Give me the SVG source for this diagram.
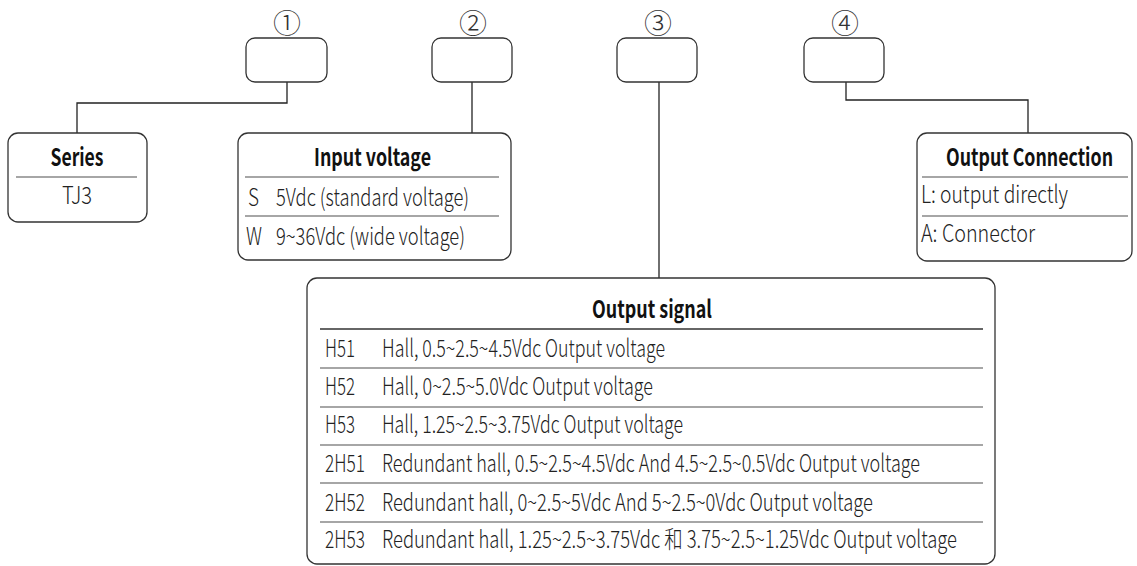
<svg xmlns="http://www.w3.org/2000/svg" width="1137" height="566" viewBox="0 0 1137 566">
<style>
.box{fill:#fff;stroke:#333;stroke-width:1.3}
.conn{fill:none;stroke:#222;stroke-width:1.3}
.t{font-family:"Noto Sans CJK SC","Noto Sans",sans-serif;font-size:24px;font-weight:300;fill:#222}
.b{font-family:"Noto Sans CJK SC","Noto Sans",sans-serif;font-size:24px;font-weight:bold;fill:#111}
.num{font-family:"Noto Sans CJK SC","DejaVu Sans",sans-serif;font-size:28px;font-weight:300;fill:#333}
.hd{stroke:#333;stroke-width:1.5}
.rd{stroke:#888;stroke-width:1.5}
</style>
<rect width="1137" height="566" fill="#fff"/>
<g id="connectors">
<polyline class="conn" points="287,82 287,103 77,103 77,133"/>
<polyline class="conn" points="472,82 472,133"/>
<polyline class="conn" points="659,82 659,278"/>
<polyline class="conn" points="846,82 846,100 1028,100 1028,133"/>
</g>
<g id="slot1">
<text class="num" x="287" y="34" text-anchor="middle">①</text>
<rect class="box" x="246" y="38" width="81" height="44" rx="9"/>
</g>
<g id="slot2">
<text class="num" x="473" y="34" text-anchor="middle">②</text>
<rect class="box" x="432" y="38" width="80" height="44" rx="9"/>
</g>
<g id="slot3">
<text class="num" x="658" y="34" text-anchor="middle">③</text>
<rect class="box" x="617" y="38" width="80" height="44" rx="9"/>
</g>
<g id="slot4">
<text class="num" x="845" y="34" text-anchor="middle">④</text>
<rect class="box" x="804" y="38" width="80" height="44" rx="9"/>
</g>
<g id="series">
<rect class="box" x="8" y="133" width="139" height="89" rx="10"/>
<text class="b" x="77" y="166" text-anchor="middle" textLength="53" lengthAdjust="spacingAndGlyphs">Series</text>
<line class="rd" x1="16" y1="177" x2="137" y2="177"/>
<text class="t" x="77" y="204" text-anchor="middle" textLength="30" lengthAdjust="spacingAndGlyphs">TJ3</text>
</g>
<g id="input-voltage">
<rect class="box" x="238" y="133" width="273" height="127" rx="10"/>
<text class="b" x="372.5" y="166" text-anchor="middle" textLength="117" lengthAdjust="spacingAndGlyphs">Input voltage</text>
<line class="rd" x1="245" y1="177" x2="499" y2="177"/>
<text class="t" x="248" y="206" textLength="11" lengthAdjust="spacingAndGlyphs">S</text>
<text class="t" x="276" y="206" textLength="193" lengthAdjust="spacingAndGlyphs">5Vdc (standard voltage)</text>
<line class="rd" x1="245" y1="216" x2="499" y2="216"/>
<text class="t" x="246" y="245" textLength="16" lengthAdjust="spacingAndGlyphs">W</text>
<text class="t" x="276" y="245" textLength="189" lengthAdjust="spacingAndGlyphs">9~36Vdc (wide voltage)</text>
</g>
<g id="output-connection">
<rect class="box" x="917" y="133" width="215" height="128" rx="10"/>
<text class="b" transform="translate(1029.5,166) scale(0.8,1)" x="0" y="0" text-anchor="middle" textLength="208.75" lengthAdjust="spacingAndGlyphs">Output Connection</text>
<line class="rd" x1="922" y1="177" x2="1128" y2="177"/>
<text class="t" x="921" y="203" textLength="147" lengthAdjust="spacingAndGlyphs">L: output directly</text>
<line class="rd" x1="922" y1="216" x2="1128" y2="216"/>
<text class="t" x="921" y="242" textLength="114" lengthAdjust="spacingAndGlyphs">A: Connector</text>
</g>
<g id="output-signal">
<rect class="box" x="307" y="278" width="688" height="286" rx="10"/>
<text class="b" x="652" y="318" text-anchor="middle" textLength="120" lengthAdjust="spacingAndGlyphs">Output signal</text>
<line class="hd" x1="320" y1="329" x2="983" y2="329"/>
<text class="t" x="325" y="357" textLength="30" lengthAdjust="spacingAndGlyphs">H51</text>
<text class="t" x="382" y="357" textLength="283" lengthAdjust="spacingAndGlyphs">Hall, 0.5~2.5~4.5Vdc Output voltage</text>
<line class="rd" x1="320" y1="368" x2="983" y2="368"/>
<text class="t" x="325" y="395" textLength="30" lengthAdjust="spacingAndGlyphs">H52</text>
<text class="t" x="382" y="395" textLength="271" lengthAdjust="spacingAndGlyphs">Hall, 0~2.5~5.0Vdc Output voltage</text>
<line class="rd" x1="320" y1="407" x2="983" y2="407"/>
<text class="t" x="325" y="433" textLength="30" lengthAdjust="spacingAndGlyphs">H53</text>
<text class="t" x="382" y="433" textLength="301" lengthAdjust="spacingAndGlyphs">Hall, 1.25~2.5~3.75Vdc Output voltage</text>
<line class="rd" x1="320" y1="445" x2="983" y2="445"/>
<text class="t" x="325" y="472" textLength="40" lengthAdjust="spacingAndGlyphs">2H51</text>
<text class="t" x="382" y="472" textLength="538" lengthAdjust="spacingAndGlyphs">Redundant hall, 0.5~2.5~4.5Vdc And 4.5~2.5~0.5Vdc Output voltage</text>
<line class="rd" x1="320" y1="483" x2="983" y2="483"/>
<text class="t" x="325" y="511" textLength="40" lengthAdjust="spacingAndGlyphs">2H52</text>
<text class="t" x="382" y="511" textLength="491" lengthAdjust="spacingAndGlyphs">Redundant hall, 0~2.5~5Vdc And 5~2.5~0Vdc Output voltage</text>
<line class="rd" x1="320" y1="522" x2="983" y2="522"/>
<text class="t" x="325" y="548" textLength="40" lengthAdjust="spacingAndGlyphs">2H53</text>
<text class="t" x="382" y="548" textLength="575" lengthAdjust="spacingAndGlyphs">Redundant hall, 1.25~2.5~3.75Vdc 和 3.75~2.5~1.25Vdc Output voltage</text>
</g>
</svg>
